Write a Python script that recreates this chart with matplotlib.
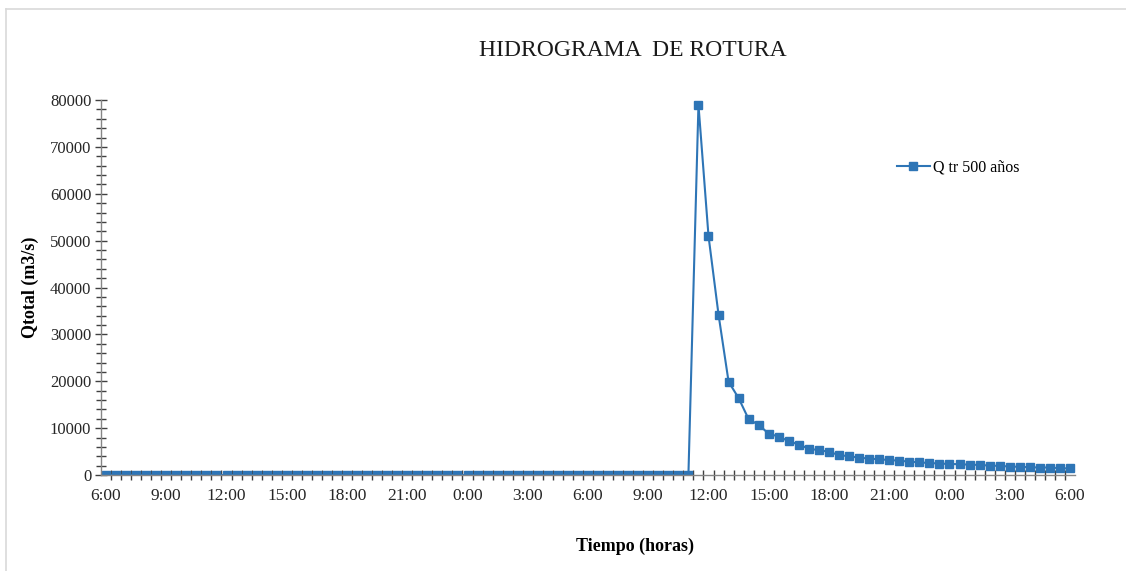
import matplotlib.pyplot as plt
import numpy as np
from matplotlib.lines import Line2D
from matplotlib.ticker import FixedLocator, MultipleLocator

# caudal cada media hora desde las 6:00 (97 registros, 48 horas)
horas = [6 + 0.5 * i for i in range(97)]
caudal_base = [0] * 59
caudal_rotura = [79000, 51000, 34200, 19900, 16400, 11900, 10700, 8800, 8200, 7200,
                 6500, 5600, 5300, 4950, 4250, 4000, 3700, 3500, 3350, 3200,
                 3050, 2850, 2700, 2550, 2450, 2350, 2300, 2200, 2150, 2000,
                 1950, 1800, 1750, 1650, 1600, 1600, 1450, 1400]
caudal = caudal_base + caudal_rotura

etiquetas_x = ['6:00', '9:00', '12:00', '15:00', '18:00', '21:00', '0:00', '3:00',
               '6:00', '9:00', '12:00', '15:00', '18:00', '21:00', '0:00', '3:00', '6:00']
pos_etiquetas = [6 + 3 * i for i in range(len(etiquetas_x))]

plt.rcParams['font.family'] = ['Liberation Serif', 'DejaVu Serif']

W, H = 1126, 571
fig = plt.figure(figsize=(W / 100, H / 100), dpi=100)
ax = fig.add_axes([101 / W, 1 - 475 / H, 974 / W, 375 / H])

azul = '#2e75b6'
ax.plot(horas, caudal, color=azul, lw=1.5, marker='s', ms=5.5,
        markerfacecolor=azul, markeredgecolor=azul, label='Q tr 500 años')

ax.set_xlim(5.75, 54.25)
ax.set_ylim(0, 80000)

# ejes en gris, sin marco superior ni derecho
gris = '#868686'
for lado in ['top', 'right']:
    ax.spines[lado].set_visible(False)
for lado in ['left', 'bottom']:
    ax.spines[lado].set_color(gris)
    ax.spines[lado].set_linewidth(1.0)

ax.xaxis.set_major_locator(FixedLocator(pos_etiquetas))
ax.set_xticklabels(etiquetas_x)
ax.xaxis.set_minor_locator(FixedLocator(np.arange(6.25, 54.0, 0.5)))
ax.tick_params(axis='x', which='major', length=0, pad=9, labelsize=12.5, colors='#262626')
ax.tick_params(axis='x', which='minor', direction='inout', length=7, width=1, color='#404040')

ax.yaxis.set_major_locator(MultipleLocator(10000))
ax.yaxis.set_minor_locator(MultipleLocator(2000))
ax.tick_params(axis='y', which='major', direction='inout', length=8, width=1,
               color='#404040', labelsize=12, labelcolor='#262626', pad=3)
ax.tick_params(axis='y', which='minor', direction='inout', length=7, width=1, color='#404040')

ax.set_ylabel('Qtotal (m3/s)', fontsize=13, fontweight='bold', labelpad=8)

# título y rótulo del eje x centrados en el área del gráfico
fig.text(633 / W, 1 - 50 / H, 'HIDROGRAMA  DE ROTURA', fontsize=17,
         ha='center', va='center', color='#1a1a1a')
fig.text(635 / W, 1 - 546 / H, 'Tiempo (horas)', fontsize=13, fontweight='bold',
         ha='center', va='center')

ax.legend(loc='upper left', bbox_to_anchor=(0.802, 0.88), frameon=False,
          fontsize=11.5, handlelength=2.1, handletextpad=0.2)

# borde del área del gráfico
fig.add_artist(Line2D([5.5 / W, 1], [1 - 8.5 / H, 1 - 8.5 / H],
                      color='#d9d9d9', lw=1.2, transform=fig.transFigure))
fig.add_artist(Line2D([5.5 / W, 5.5 / W], [0, 1 - 8.5 / H],
                      color='#d9d9d9', lw=1.2, transform=fig.transFigure))

fig.savefig('out.png', dpi=100)
